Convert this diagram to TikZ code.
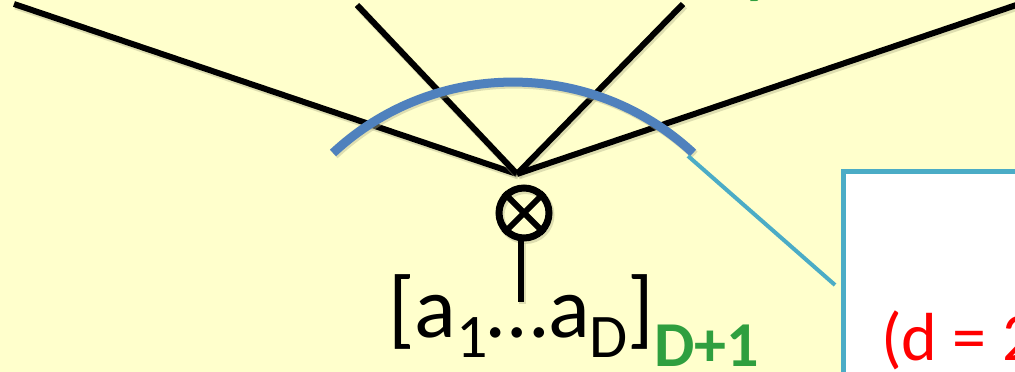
\documentclass[tikz,border=0pt]{standalone}
\usepackage{fontspec}
\setmainfont{Carlito}
\definecolor{bg}{HTML}{FFFFCC}
\definecolor{arcblue}{HTML}{4F81BD}
\definecolor{aqua}{HTML}{4BACC6}
\definecolor{grn}{HTML}{2F9F3F}
\definecolor{shade}{HTML}{B8B890}
\begin{document}
\begin{tikzpicture}[x=1pt,y=1pt,
  shadowed/.style={preaction={draw=shade, draw opacity=0.45, line width=#1, transform canvas={shift={(1.5pt,-2pt)}}}},
  wire/.style={draw=black, line width=6pt, line cap=butt, shadowed=7pt},
  arcline/.style={draw=arcblue, line width=9pt, line cap=butt, shadowed=9pt},
  callout/.style={draw=aqua, line width=4pt},
  otimes/.style={circle, draw=black, line width=7pt, minimum size=50pt, inner sep=0pt, shadowed=8pt},
  cross/.style={draw=black, line width=6pt},
  boxst/.style={rectangle, draw=aqua, fill=white, line width=5pt, inner sep=0pt, anchor=north west},
  bigtext/.style={inner sep=0pt, anchor=base west, font=\fontsize{87}{87}\selectfont},
]
\useasboundingbox (0,0) rectangle (1015,372);
\clip (0,0) rectangle (1015,372);
\fill[bg] (0,0) rectangle (1015,372);

% green text (cut off at the top)
\node[inner sep=0pt, anchor=base west, text=grn, font=\fontsize{64}{64}\selectfont\bfseries] (gy) at (744,380) {y};

% converging lines
\coordinate (c) at (517,198);
\coordinate (e1) at (14,368);
\coordinate (e2) at (357,367);
\coordinate (e3) at (683,368);
\coordinate (e4) at (1040,375);
\draw[wire] (e1) -- (c);
\draw[wire] (e2) -- (c);
\draw[wire] (e3) -- (c);
\draw[wire] (e4) -- (c);

% blue arc
\coordinate (a1) at (333,219);
\draw[arcline] (a1) arc[start angle=133, end angle=47, radius=264pt] coordinate (a2);

% product node
\node[otimes] (x) at (524,159) {};
\draw[cross] (x.45) -- (x.225);
\draw[cross] (x.135) -- (x.315);
\coordinate (v) at (521,70);
\draw[wire] (x.south -| v) -- (v);

% label
\node[bigtext] (lab) at (388,34) {[a\raisebox{-20pt}{\fontsize{62}{62}\selectfont 1}…a\raisebox{-20pt}{\fontsize{62}{62}\selectfont D}]\raisebox{-29pt}{\color{grn}\fontsize{64}{64}\selectfont\bfseries D+1}};

% callout box
\node[boxst, minimum width=300pt, minimum height=300pt] (box) at (841,203) {};
\coordinate (k0) at (688,216);
\coordinate (k1) at (835,87);
\draw[callout] (k0) -- (k1);
\node[inner sep=0pt, anchor=base west, text=red, font=\fontsize{68}{68}\selectfont] (txt) at (881,11) {(d = 2};
\end{tikzpicture}
\end{document}
